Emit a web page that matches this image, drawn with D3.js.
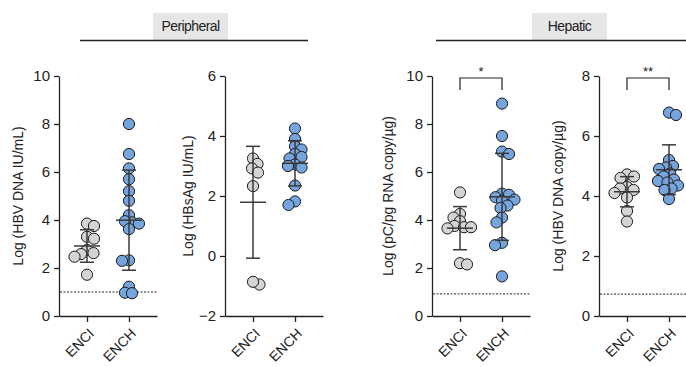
<!DOCTYPE html>
<html>
<head>
<meta charset="utf-8">
<script src="https://cdn.jsdelivr.net/npm/d3@7"></script>
<style>
  body { margin: 0; background: #fff; }
  text { font-family: "Liberation Sans", Arial, sans-serif; fill: #222; }
</style>
</head>
<body>
<div id="chart"></div>
<script>
const categories = ["ENCI", "ENCH"];

// Log (HBV DNA IU/mL) - serum
const serumDnaENCI = [3.85, 3.75, 3.3, 3.22, 2.75, 2.62, 2.58, 2.47, 1.72];
const serumDnaENCH = [8.0, 6.75, 6.15, 5.7, 5.2, 4.8, 4.2, 3.9, 3.95, 3.85, 3.62, 2.32, 2.3, 1.22, 0.97, 0.95];

// Log (HBsAg IU/mL)
const hbsagENCI = [3.25, 3.07, 2.92, 2.78, 2.33, -0.95, -0.86];
const hbsagENCH = [4.25, 3.9, 3.65, 3.55, 3.4, 3.3, 3.25, 3.05, 3.0, 2.95, 2.35, 1.82, 1.7];

// Log (pC/pg RNA copy/ug) - liver
const pcRnaENCI = [5.15, 4.25, 4.1, 3.95, 3.75, 3.7, 3.7, 3.65, 2.2, 2.15];
const pcRnaENCH = [8.85, 7.5, 6.85, 6.75, 5.1, 5.05, 4.95, 4.85, 4.8, 4.6, 4.5, 4.1, 3.9, 3.05, 2.95, 1.65];

// Log (HBV DNA copy/ug) - liver
const liverDnaENCI = [4.72, 4.65, 4.6, 4.3, 4.25, 4.2, 4.1, 3.95, 3.5, 3.15];
const liverDnaENCH = [6.78, 6.7, 5.2, 5.0, 4.95, 4.9, 4.75, 4.65, 4.55, 4.5, 4.45, 4.35, 4.25, 4.2, 3.9];

const yTicks1 = [0, 2, 4, 6, 8, 10];
const yTicks2 = [-2, 0, 2, 4, 6];
const yTicks3 = [0, 2, 4, 6, 8, 10];
const yTicks4 = [0, 2, 4, 6, 8];

const limits = [1.0, null, 0.92, 0.73];
const sigLabels = [null, null, "*", "**"];
const groupTitles = ["Peripheral", "Hepatic"];

const panels = [
  { title: "Log (HBV DNA IU/mL)", ticks: yTicks1, groups: [serumDnaENCI, serumDnaENCH], lod: limits[0], sig: sigLabels[0], ax: 59, titleX: 18 },
  { title: "Log (HBsAg IU/mL)", ticks: yTicks2, groups: [hbsagENCI, hbsagENCH], lod: limits[1], sig: sigLabels[1], ax: 225, titleX: 188 },
  { title: "Log (pC/pg RNA copy/\u00b5g)", ticks: yTicks3, groups: [pcRnaENCI, pcRnaENCH], lod: limits[2], sig: sigLabels[2], ax: 432, titleX: 388 },
  { title: "Log (HBV DNA copy/\u00b5g)", ticks: yTicks4, groups: [liverDnaENCI, liverDnaENCH], lod: limits[3], sig: sigLabels[3], ax: 599, titleX: 558 }
];

const width = 686, height = 367;
const yTop = 76, yBottom = 316, axisLen = 98;
const fills = ["#d4d4d4", "#76a5de"];
const r = 5.6;

const svg = d3.select("#chart").append("svg")
  .attr("width", width).attr("height", height);

// group headers
const headers = [
  { text: groupTitles[0], x1: 80, x2: 308, bx: 153, bw: 75 },
  { text: groupTitles[1], x1: 436, x2: 686, bx: 532, bw: 75 }
];
headers.forEach(h => {
  svg.append("rect").attr("x", h.bx).attr("y", 13).attr("width", h.bw).attr("height", 27).attr("fill", "#e6e6e6");
  svg.append("text").attr("x", h.bx + h.bw / 2).attr("y", 31).attr("text-anchor", "middle")
    .attr("font-size", 14).attr("letter-spacing", -0.6).text(h.text);
  svg.append("line").attr("x1", h.x1).attr("x2", h.x2).attr("y1", 40.5).attr("y2", 40.5)
    .attr("stroke", "#222").attr("stroke-width", 1.5);
});

function swarm(values, y, minDist) {
  const placed = [];
  const order = values.map((v, i) => i).sort((a, b) => values[b] - values[a]);
  const out = new Array(values.length);
  order.forEach(i => {
    const py = y(values[i]);
    let dx = 0;
    for (let k = 0; k < 60; k++) {
      const cands = k === 0 ? [0] : (i % 2 ? [k * 0.5, -k * 0.5] : [-k * 0.5, k * 0.5]);
      const ok = cands.find(c => placed.every(p => Math.hypot(p.x - c, p.y - py) >= minDist));
      if (ok !== undefined) { dx = ok; break; }
    }
    placed.push({ x: dx, y: py });
    out[i] = { v: values[i], dx: dx, y: py };
  });
  return out;
}

panels.forEach(p => {
  const g = svg.append("g").attr("transform", `translate(${p.ax},0)`);

  const y = d3.scaleLinear().domain(d3.extent(p.ticks)).range([yBottom, yTop]);
  const x = d3.scalePoint().domain(categories).range([0, axisLen]).padding(2 / 3);

  // limit of detection
  if (p.lod !== null) {
    g.append("line").attr("x1", 1).attr("x2", axisLen).attr("y1", y(p.lod)).attr("y2", y(p.lod))
      .attr("stroke", "#222").attr("stroke-width", 1).attr("stroke-dasharray", "2,1.5");
  }

  // points
  p.groups.forEach((vals, gi) => {
    const cx = x(categories[gi]);
    const pts = swarm(vals, y, 7);
    g.append("g").selectAll("circle").data(pts).join("circle")
      .attr("cx", d => cx + d.dx).attr("cy", d => d.y).attr("r", r)
      .attr("fill", fills[gi]).attr("stroke", "#1a1a1a").attr("stroke-width", 1);
  });

  // mean +/- SD
  p.groups.forEach((vals, gi) => {
    const cx = x(categories[gi]);
    const m = d3.mean(vals), sd = d3.deviation(vals);
    const eb = g.append("g").attr("stroke", "#3a3a3a").attr("stroke-width", 1.5);
    eb.append("line").attr("x1", cx).attr("x2", cx).attr("y1", y(m + sd)).attr("y2", y(m - sd));
    eb.append("line").attr("x1", cx - 13).attr("x2", cx + 13).attr("y1", y(m)).attr("y2", y(m));
    [m + sd, m - sd].forEach(v => {
      eb.append("line").attr("x1", cx - 7).attr("x2", cx + 7).attr("y1", y(v)).attr("y2", y(v));
    });
  });

  // axes
  const yAxis = g.append("g")
    .call(d3.axisLeft(y).tickValues(p.ticks).tickSize(5).tickPadding(4).tickSizeOuter(0));
  yAxis.selectAll("text").attr("font-size", 15).attr("fill", "#222");
  yAxis.selectAll("line, path").attr("stroke", "#222").attr("stroke-width", 1.3);

  const xAxis = g.append("g").attr("transform", `translate(0,${yBottom})`)
    .call(d3.axisBottom(x).tickSize(6).tickSizeOuter(0));
  xAxis.selectAll("line, path").attr("stroke", "#222").attr("stroke-width", 1.3);
  xAxis.selectAll("text").attr("font-size", 14).attr("fill", "#222")
    .attr("x", 0).attr("y", 0).attr("dy", "0.35em")
    .attr("text-anchor", "end")
    .attr("transform", "translate(4,15) rotate(-45)");

  // y title
  g.append("text").attr("transform", `translate(${p.titleX - p.ax},${(yTop + yBottom) / 2}) rotate(-90)`)
    .attr("text-anchor", "middle").attr("dy", "0.35em").attr("font-size", 14).text(p.title);

  // significance bracket
  if (p.sig) {
    const x1 = x(categories[0]), x2 = x(categories[1]);
    g.append("path").attr("d", `M${x1},90V78H${x2}V90`).attr("fill", "none")
      .attr("stroke", "#222").attr("stroke-width", 1.2);
    g.append("text").attr("x", (x1 + x2) / 2).attr("y", 76).attr("text-anchor", "middle")
      .attr("font-size", 13).text(p.sig);
  }
});
</script>
</body>
</html>
